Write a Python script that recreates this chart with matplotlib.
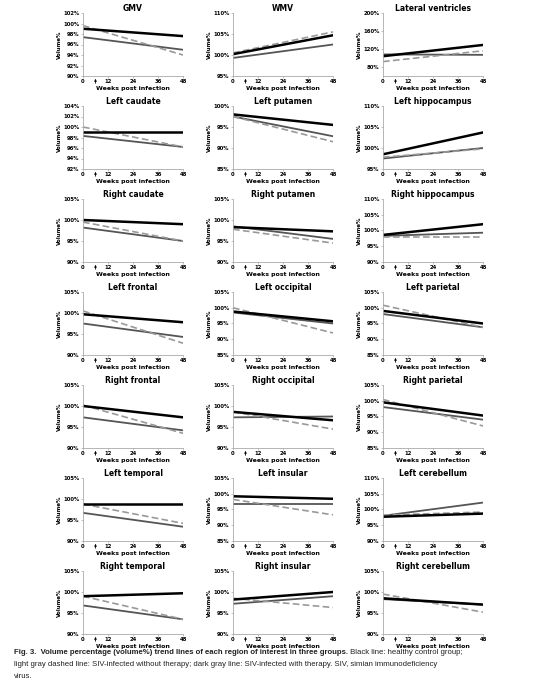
import matplotlib
matplotlib.use("Agg")
import matplotlib.pyplot as plt
from matplotlib.text import Annotation
import numpy as np

titles = ["GMV", "WMV", "Lateral ventricles",
          "Left caudate", "Left putamen", "Left hippocampus",
          "Right caudate", "Right putamen", "Right hippocampus",
          "Left frontal", "Left occipital", "Left parietal",
          "Right frontal", "Right occipital", "Right parietal",
          "Left temporal", "Left insular", "Left cerebellum",
          "Right temporal", "Right insular", "Right cerebellum"]
# (ymin, ymax, step)
yranges = [(90, 102, 2), (95, 110, 5), (60, 200, 40),
           (92, 104, 2), (85, 100, 5), (95, 110, 5),
           (90, 105, 5), (90, 105, 5), (90, 110, 5),
           (90, 105, 5), (85, 105, 5), (85, 105, 5),
           (90, 105, 5), (90, 105, 5), (85, 105, 5),
           (90, 105, 5), (85, 105, 5), (90, 110, 5),
           (90, 105, 5), (90, 105, 5), (90, 105, 5)]
weeks = [0, 48]
# trend line endpoints (week 0, week 48)
control = [(99.0, 97.6), (100.2, 104.7), (104, 129),
           (99.0, 99.0), (98.0, 95.5), (98.5, 103.7),
           (100.0, 99.0), (98.3, 97.3), (98.6, 102.0),
           (99.7, 97.8), (98.8, 95.7), (99.0, 95.0),
           (100.0, 97.3), (98.6, 96.6), (99.5, 95.3),
           (98.8, 98.8), (99.2, 98.4), (97.7, 98.7),
           (99.0, 99.7), (98.2, 100.0), (98.5, 97.0)]
no_therapy = [(99.6, 94.0), (100.5, 105.5), (92, 116),
              (100.0, 96.2), (97.5, 91.5), (97.8, 99.8),
              (99.5, 95.0), (97.8, 94.5), (98.0, 98.0),
              (100.5, 92.8), (100.0, 92.0), (100.8, 93.8),
              (100.2, 93.5), (98.6, 94.5), (100.4, 92.0),
              (98.8, 94.2), (98.2, 93.3), (98.2, 99.2),
              (99.0, 93.5), (98.5, 96.3), (99.5, 95.2)]
therapy = [(97.4, 95.0), (99.3, 102.5), (108, 107),
           (98.3, 96.2), (97.5, 92.8), (97.5, 100.0),
           (98.2, 95.0), (98.5, 95.5), (98.3, 99.3),
           (97.5, 94.3), (98.5, 95.0), (98.0, 93.8),
           (97.3, 94.2), (97.3, 97.5), (98.0, 94.0),
           (96.7, 93.4), (96.8, 96.8), (98.0, 102.2),
           (96.8, 93.5), (97.2, 99.0), (98.3, 97.0)]
xticks = [0, 12, 24, 36, 48]

W, H = 553, 696
fig = plt.figure(figsize=(W/100, H/100), dpi=100)
fig.patch.set_facecolor("white")
lefts = [83, 233, 383]
tops = [13, 106, 199, 292, 385, 478, 571]
aw, ah = 100, 63
for i, t in enumerate(titles):
    r, c = divmod(i, 3)
    ax = fig.add_axes([lefts[c]/W, 1-(tops[r]+ah)/H, aw/W, ah/H])
    ax.plot(weeks, therapy[i], color="#555555", lw=1.3)
    ax.plot(weeks, no_therapy[i], color="#999999", lw=1.2, ls=(0, (4, 2)))
    ax.plot(weeks, control[i], color="black", lw=1.8)
    y0, y1, st = yranges[i]
    ax.set_ylim(y0, y1)
    ax.set_xlim(0, 48)
    yt = np.arange(y0 if i != 2 else 80, y1 + 0.01, st)
    ax.set_yticks(yt)
    ax.set_yticklabels([f"{v:g}%" for v in yt])
    ax.set_xticks(xticks)
    for s in ["top", "right"]:
        ax.spines[s].set_visible(False)
    for s in ["left", "bottom"]:
        ax.spines[s].set_color("#aaaaaa")
        ax.spines[s].set_linewidth(0.6)
    ax.tick_params(labelsize=3.8, length=1.5, width=0.5, color="#aaaaaa", pad=1)
    for lab in ax.get_xticklabels() + ax.get_yticklabels():
        lab.set_fontweight("bold")
    ax.set_title(t, fontsize=5.5, fontweight="bold", pad=-3)
    ax.set_xlabel("Weeks post infection", fontsize=4.5, fontweight="bold", labelpad=1)
    ax.set_ylabel("Volume%", fontsize=4, fontweight="bold", labelpad=1)
    ax.annotate("", xy=(6, 0), xycoords=("data", "axes fraction"),
                xytext=(6, -0.16), textcoords=("data", "axes fraction"),
                arrowprops=dict(arrowstyle="-|>", color="black", lw=0.6, mutation_scale=3),
                annotation_clip=False)

fs = 5.6
col = "#222222"
fam = "Liberation Sans"
t1 = fig.text(14/W, 1-654/H, "Fig. 3.  Volume percentage (volume%) trend lines of each region of interest in three groups.",
              fontsize=fs, fontweight="bold", color=col, family=fam, va="baseline")
fig.add_artist(Annotation(" Black line: healthy control group;", xy=(1, 0), xycoords=t1,
                          va="bottom", ha="left", fontsize=fs, color=col, family=fam))
fig.text(14/W, 1-666/H, "light gray dashed line: SIV-infected without therapy; dark gray line: SIV-infected with therapy. SIV, simian immunodeficiency",
         fontsize=fs, color=col, family=fam, va="baseline")
fig.text(14/W, 1-678/H, "virus.", fontsize=fs, color=col, family=fam, va="baseline")

fig.savefig("out.png", dpi=100)
